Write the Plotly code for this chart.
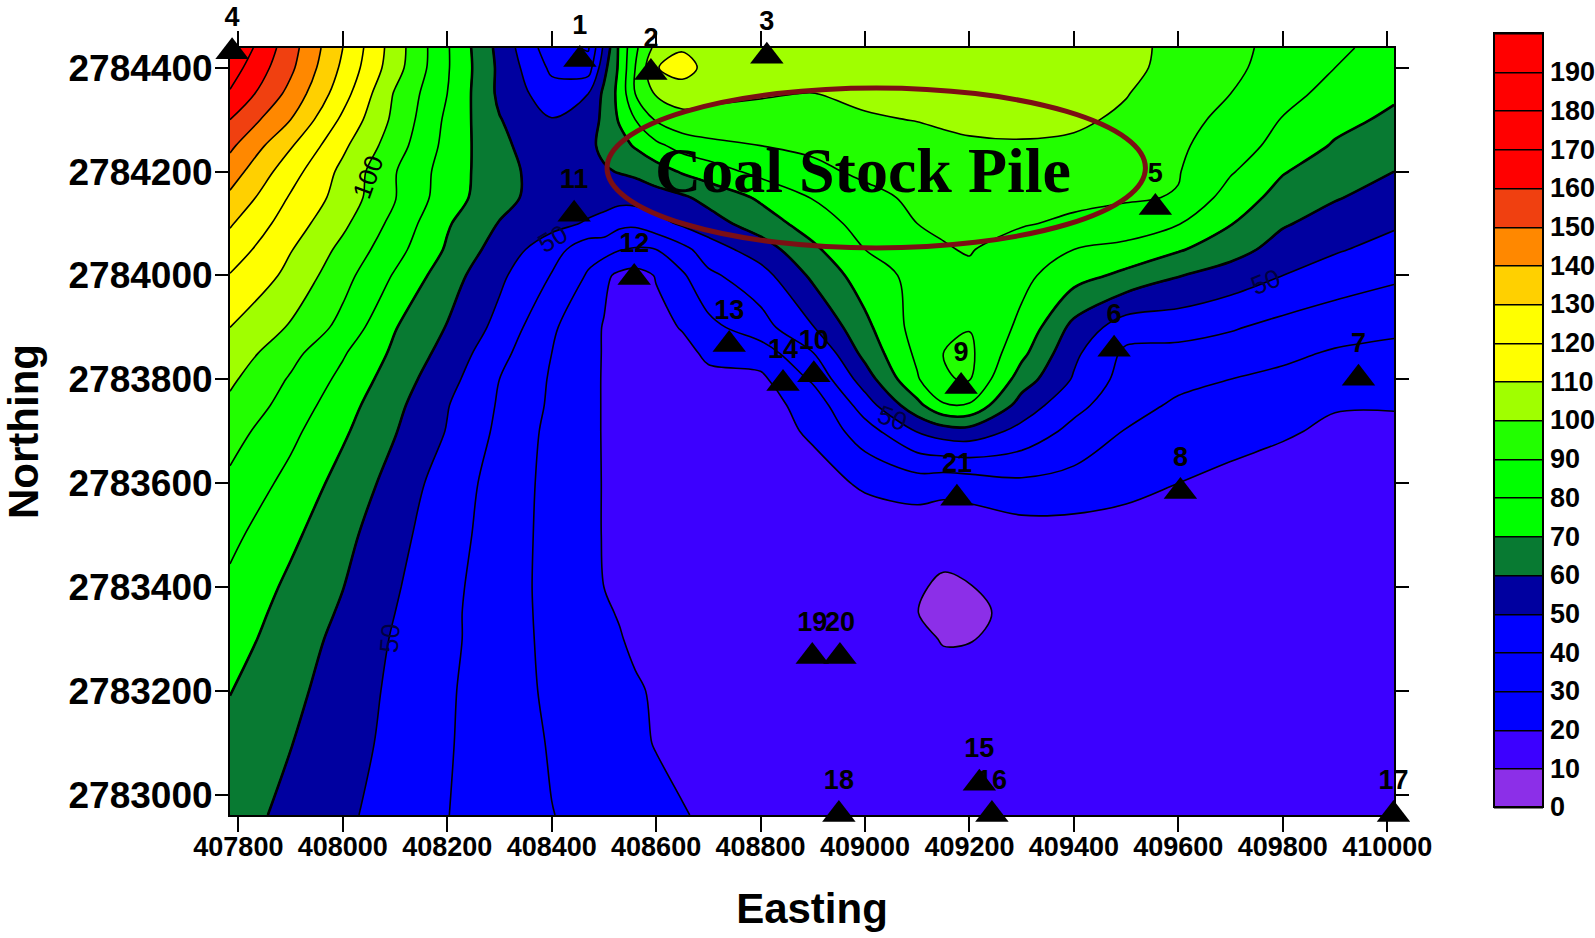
import plotly.graph_objects as go

easting = [407784,407900,408000,408100,408200,408300,408400,408470,408500,408530,408560,408600,408650,408700,
           408800,408900,409000,409100,409150,409200,409300,409400,409500,409600,409700,409800,409900,410013]
northing = [2784438,2784400,2784350,2784300,2784250,2784200,2784150,2784100,2784050,2784000,2783900,2783850,
            2783800,2783750,2783700,2783600,2783500,2783400,2783350,2783300,2783200,2783100,2782961]

row_2784438 = [180,154,130,105,81,57,34,29,52,72,88,103,109,105,105,104,104,104,104,104,103,102,102,98,92.5,87,82,76]
row_2784400 = [175,152,128,104,81,58,38,35,57,72,90,109.5,114,107,105.5,105,105,105,105,105,104.5,104,103,96,92,86,80,74.5]
row_2784350 = [169,147,124,99,80,58,44,50,62,73,90,101,105,102,100.5,99.8,102,103.5,104,104,104,103.5,100.5,93.5,90,83,77,71.5]
row_2784300 = [160,140,118,97.5,78,60.5,50.5,53,63,71,80,91,96.5,97.5,98,98.5,99,100.3,101.5,102.5,103,102,98,93,87.5,79.5,73,68]
row_2784250 = [152,131,112,94.5,77,62,54,58,62,66.5,71,77.5,84,87,90,92,94.5,96.5,97.5,98.5,99,98,95,91.5,85,76.5,69,64]
row_2784200 = [145,124,107.5,90.5,75.5,63.5,55,57,59,60.5,62,65.5,71,75,83,87.5,92,95,95.5,96,96.5,95.5,93,90.5,81,70.6,65,60]
row_2784150 = [138,119,106,90.5,74.5,63.5,54.5,54,54,53.5,54,56,58.5,63,71.5,80.5,87,92,93,93.5,93,92,91,89.5,75.5,66.5,60.7,56]
row_2784100 = [131,115,102,87,71,59.5,53,49,46.7,42.5,42,46.5,51.5,55.7,65,74.5,84,90,91,91.5,90.7,88.5,86,80.5,70.5,61,56,51.3]
row_2784050 = [125.5,110.5,97.5,83.5,68.8,55.5,44.5,33.5,34,30.5,29,30,37,45,55,68,80,84,89.5,90.5,86,80,77,71,64,56,51,46.5]
row_2784000 = [119.5,107.5,93.5,79,64.5,52,39.5,29,22,18,16.5,20.5,28.5,38,46,62,75,83,86.5,88.5,82.5,74,67.5,60.5,55.5,50,45.5,41.8]
row_2783900 = [110,99,87,70.5,59.5,47,31.5,23,19.5,17,16,17.5,20.5,27,36,49.5,67.5,84,87.5,89.6,77.8,57,44.5,44,41,37,34,31.5]
row_2783850 = [106,93,81,68,56.5,43,30,22.5,19.5,17,16,16,17.5,21.5,24.5,39.5,63,82,90,92,72.5,52,38,37,35,32,29,28]
row_2783800 = [101.7,89,77.5,65,53.5,40,29,22,19.5,17,15.5,15.5,16,18,18,31.5,55,79,89.5,90.5,65,49,36,32.5,30,27.8,25,24]
row_2783750 = [98,86,74,62.5,50.5,39,28.5,22,19.5,17.3,15.7,15,15,16,16.5,23.5,45,67,79,79,55.5,43,33.5,28.5,26,23.3,20.6,20.6]
row_2783700 = [94,82.5,71.5,60.5,49.5,38,27.5,22,19.5,17.5,16,15,14.5,15,15.5,21.5,35.5,50.5,55,56,47,37,29.5,25.8,23.5,21,18.5,18]
row_2783600 = [88,77,66.5,56.5,45,36.5,27,22.5,19.5,17,16,15,14.5,14.5,14.5,16,21.5,25,23.5,24.5,28,26.5,23,20,17.5,16,16,15.5]
row_2783500 = [82.5,72,63,53,44,35.5,27,22.5,19.5,17,16,15,14.5,14.5,14,14,13.5,13,12.5,13,15,15.5,15.5,15,14.5,14,14,14]
row_2783400 = [78,68,60.2,51,42.5,35,27,22.5,20,18,17,15.5,14.5,14,13.5,13,12.5,10.7,9,9.8,12,13,13,13,13,13,13,13]
row_2783350 = [76.2,66.2,58.8,50,42,35,27.2,23.5,21,19.5,17.5,15.8,14.7,14,13.5,13,12.3,10.1,8,8.5,12,13,13,13,13,13,13,13]
row_2783300 = [74.5,64.5,57.5,49,42,35,27.5,24.5,22.5,20.5,18.5,16,15,14,13.5,13,12.5,11.5,9.6,9.7,12.5,13,13,13,13,13,13,13]
row_2783200 = [70.3,62.5,55.4,48,41,35.5,28,26.2,24.5,22.5,21,19,16,15,14,13.5,13,12.5,12.5,12.5,13,13,13,13,13,13,13,13]
row_2783100 = [67,60.3,53.8,47.5,40.7,35.5,29.2,26.5,24.5,23,21.5,19.6,17.5,15.5,14,13.5,13,13,13,13,13,13,13,13,13,13,13,13]
row_2782961 = [64,57.6,51.8,46,40.2,35.2,30.2,28,26.5,25,24,22.5,20.6,18.5,15,14,13.5,13,13,13,13,13,13,13,13,13,13,13]

grid_rows = [row_2784438,row_2784400,row_2784350,row_2784300,row_2784250,row_2784200,row_2784150,row_2784100,
             row_2784050,row_2784000,row_2783900,row_2783850,row_2783800,row_2783750,row_2783700,row_2783600,
             row_2783500,row_2783400,row_2783350,row_2783300,row_2783200,row_2783100,row_2782961]

band_colors = ["#8C2FE8","#3C00FF","#0000FF","#0000FF","#0000FF","#0000A0","#087A32","#00FF00","#00FF00","#22FF00",
               "#A0FF00","#FFFF00","#FFFF00","#FFD000","#FF8800","#F04010","#FF0000","#FF0000","#FF0000","#FF0000"]
bar_ticks = list(range(0, 200, 10))

station_labels = ["1","2","3","4","5","6","7","8","9","10","11","12","13","14","15","16","17","18","19","20","21"]
station_x = [408454,408590,408812,407788,409556,409477,409945,409604,409184,408902,408443,408558,408740,408843,
             409219,409243,410012,408950,408899,408952,409176]
station_y = [2784416,2784391,2784422,2784431,2784131,2783858,2783802,2783584,2783786,2783809,2784118,2783996,
             2783867,2783792,2783022,2782962,2782962,2782962,2783266,2783266,2783571]

pile_x = [408506, 409537]
pile_y = [2784053, 2784361]
pile_label = ("Coal Stock Pile", 408996, 2784203)

contour_labels = [("100", 408048, 2784190, -70, "#000000"),
                  ("50", 408401, 2784071, -30, "#000040"),
                  ("50", 408090, 2783302, -85, "#000040"),
                  ("50", 409052, 2783726, 20, "#000040"),
                  ("50", 409766, 2783988, -22, "#000040")]

x_ticks = list(range(407800, 410001, 200))
y_ticks = list(range(2783000, 2784401, 200))

colorscale = []
for i, c in enumerate(band_colors):
    colorscale.append([i / len(band_colors), c])
    colorscale.append([(i + 1) / len(band_colors), c])

FONT = "Liberation Sans"
fig = go.Figure()
fig.add_trace(go.Contour(
    x=easting, y=northing[::-1], z=grid_rows[::-1],
    zmin=0, zmax=200, zauto=False, autocontour=False,
    contours=dict(start=0, end=200, size=10, coloring="fill", showlines=True),
    line=dict(color="black", width=1.6, smoothing=1.0),
    colorscale=colorscale,
    hoverinfo="skip",
    colorbar=dict(
        x=(1494 - 230) / 1164, xanchor="left",
        y=(815 - 33) / 767, yanchor="top", lenmode="pixels", len=774, thicknessmode="pixels", thickness=49,
        xpad=0, ypad=0, outlinecolor="black", outlinewidth=2,
        tickmode="array", tickvals=bar_ticks, ticks="",
        tickfont=dict(family=FONT, size=27, color="black", weight=700),
    ),
))
fig.add_trace(go.Contour(
    x=easting, y=northing[::-1], z=grid_rows[::-1],
    autocontour=False, showscale=False,
    contours=dict(start=60, end=70, size=10, coloring="none", showlines=True),
    line=dict(color="black", width=2.6, smoothing=1.0),
    hoverinfo="skip",
))
fig.add_trace(go.Scatter(
    x=station_x, y=station_y, mode="markers+text", text=station_labels, textposition="top center",
    marker=dict(symbol="triangle-up", size=29, color="black"),
    textfont=dict(family=FONT, size=27, color="black", weight=700),
    cliponaxis=False, showlegend=False, hoverinfo="skip",
))

fig.add_shape(type="circle", xref="x", yref="y", x0=pile_x[0], x1=pile_x[1], y0=pile_y[0], y1=pile_y[1],
              line=dict(color="#7B0F14", width=5))
fig.add_annotation(text=pile_label[0], x=pile_label[1], y=pile_label[2], showarrow=False,
                   font=dict(family="Liberation Serif", size=64, color="black", weight=700))
for txt, lx, ly, ang, col in contour_labels:
    fig.add_annotation(text=txt, x=lx, y=ly, textangle=ang, showarrow=False,
                       font=dict(family=FONT, size=26, color=col))

axis_common = dict(ticks="outside", tickwidth=2, tickcolor="black", mirror="ticks",
                   showline=True, linecolor="black", linewidth=2, showgrid=False, zeroline=False,
                   tickformat="d", tickmode="array")
fig.update_xaxes(range=[easting[0], easting[-1]], tickvals=x_ticks, ticklen=15, ticklabelstandoff=-8,
                 tickfont=dict(family=FONT, size=27, color="black", weight=700),
                 title=dict(text="Easting", font=dict(family=FONT, size=42, color="black", weight=700), standoff=32),
                 **axis_common)
fig.update_yaxes(range=[northing[-1], northing[0]], tickvals=y_ticks, ticklen=13, ticklabelstandoff=-5,
                 tickfont=dict(family=FONT, size=37, color="black", weight=700),
                 title=dict(text="Northing", font=dict(family=FONT, size=42, color="black", weight=700), standoff=26),
                 **axis_common)
fig.update_layout(width=1595, height=938, autosize=False, plot_bgcolor="white", paper_bgcolor="white",
                  margin=dict(l=230, r=201, t=48, b=123, autoexpand=False), showlegend=False)

fig.write_html("out.html", config=dict(displayModeBar=False),
               post_script="document.body.style.margin='0';document.documentElement.style.overflow='hidden';")
